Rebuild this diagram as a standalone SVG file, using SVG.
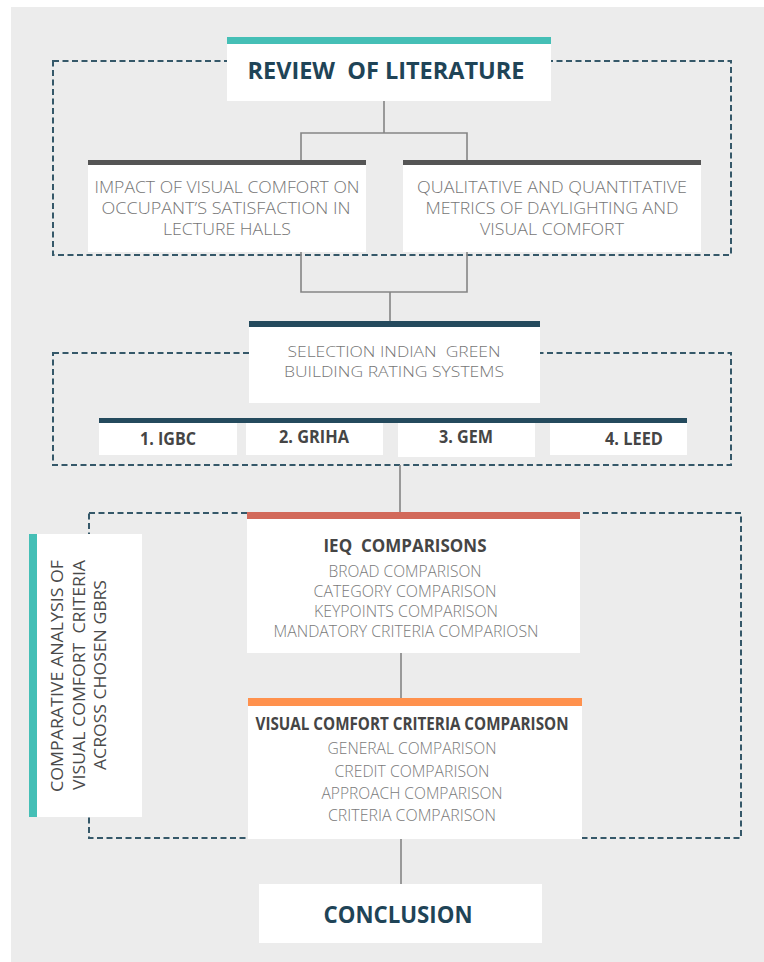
<svg xmlns="http://www.w3.org/2000/svg" width="764" height="962" viewBox="0 0 764 962">
<defs>
<style>
.bg{fill:#ececec}
.box{fill:#ffffff}
.dash{fill:none;stroke:#355869;stroke-width:2;stroke-dasharray:6 3.5}
.conn{fill:none;stroke:#858585;stroke-width:1.6}
.t{font-family:"Open Sans","Liberation Sans",sans-serif;text-anchor:middle;white-space:pre}
.title{font-weight:700;font-size:23px;fill:#1f4457}
.lbl{font-weight:300;font-size:17px;fill:#767676}
.sel{font-weight:300;font-size:15px;fill:#767676}
.sub{font-weight:300;font-size:16px;fill:#7a7a7a}
.bold{font-weight:700;font-size:17px;fill:#454545}
.side{font-weight:400;font-size:16px;fill:#4a4a4a}
</style>
</defs>
<rect class="bg" x="11" y="7" width="753" height="955"/>

<g id="groups">
<rect class="dash" x="53" y="61" width="678" height="194"/>
<rect class="dash" x="53" y="353" width="678" height="112"/>
<rect class="dash" x="89" y="513" width="652" height="325"/>
</g>

<g id="connectors">
<polyline class="conn" points="384,100 384,133"/>
<polyline class="conn" points="301,160 301,133 467,133 467,160"/>
<polyline class="conn" points="301,252 301,292 467,292 467,252"/>
<polyline class="conn" points="390,292 390,321"/>
<polyline class="conn" points="400,465 400,512"/>
<polyline class="conn" points="401,653 401,698"/>
<polyline class="conn" points="401,839 401,884"/>
</g>

<g id="review">
<rect class="box" x="227" y="44" width="324" height="57"/>
<rect x="227" y="37" width="324" height="7" fill="#45bfb6"/>
<text class="t title" x="386" y="79" textLength="277" lengthAdjust="spacingAndGlyphs">REVIEW  OF LITERATURE</text>
</g>

<g id="impact">
<rect class="box" x="88" y="165" width="278" height="87"/>
<rect x="88" y="160" width="278" height="5" fill="#555555"/>
<text class="t lbl" x="227" y="193" textLength="265" lengthAdjust="spacingAndGlyphs">IMPACT OF VISUAL COMFORT ON</text>
<text class="t lbl" x="226" y="214" textLength="249" lengthAdjust="spacingAndGlyphs">OCCUPANT’S SATISFACTION IN</text>
<text class="t lbl" x="227" y="235" textLength="128" lengthAdjust="spacingAndGlyphs">LECTURE HALLS</text>
</g>

<g id="metrics">
<rect class="box" x="403" y="165" width="298" height="87"/>
<rect x="403" y="160" width="298" height="5" fill="#555555"/>
<text class="t lbl" x="552" y="193" textLength="270" lengthAdjust="spacingAndGlyphs">QUALITATIVE AND QUANTITATIVE</text>
<text class="t lbl" x="552" y="214" textLength="253" lengthAdjust="spacingAndGlyphs">METRICS OF DAYLIGHTING AND</text>
<text class="t lbl" x="552" y="235" textLength="144" lengthAdjust="spacingAndGlyphs">VISUAL COMFORT</text>
</g>

<g id="selection">
<rect class="box" x="249" y="327" width="291" height="76"/>
<rect x="249" y="321" width="291" height="6" fill="#244a5d"/>
<text class="t sel" x="394" y="357" textLength="213" lengthAdjust="spacingAndGlyphs">SELECTION INDIAN  GREEN</text>
<text class="t sel" x="394" y="377" textLength="220" lengthAdjust="spacingAndGlyphs">BUILDING RATING SYSTEMS</text>
</g>

<g id="systems">
<rect x="99" y="418" width="588" height="5" fill="#244a5d"/>
</g>
<g id="igbc">
<rect class="box" x="99" y="423" width="138" height="32"/>
<text class="t bold" x="168" y="445" textLength="56" lengthAdjust="spacingAndGlyphs">1. IGBC</text>
</g>
<g id="griha">
<rect class="box" x="246" y="423" width="137" height="32"/>
<text class="t bold" x="314" y="443" textLength="70" lengthAdjust="spacingAndGlyphs">2. GRIHA</text>
</g>
<g id="gem">
<rect class="box" x="398" y="423" width="137" height="34"/>
<text class="t bold" x="466" y="443" textLength="54" lengthAdjust="spacingAndGlyphs">3. GEM</text>
</g>
<g id="leed">
<rect class="box" x="550" y="423" width="137" height="32"/>
<text class="t bold" x="634" y="445" textLength="58" lengthAdjust="spacingAndGlyphs">4. LEED</text>
</g>

<g id="ieq">
<rect class="box" x="247" y="519" width="333" height="134"/>
<rect x="247" y="512" width="333" height="7" fill="#d2695a"/>
<text class="t bold" x="405" y="552" textLength="163" lengthAdjust="spacingAndGlyphs">IEQ  COMPARISONS</text>
<text class="t sub" x="405" y="577" textLength="153" lengthAdjust="spacingAndGlyphs">BROAD COMPARISON</text>
<text class="t sub" x="405" y="597" textLength="183" lengthAdjust="spacingAndGlyphs">CATEGORY COMPARISON</text>
<text class="t sub" x="406" y="617" textLength="184" lengthAdjust="spacingAndGlyphs">KEYPOINTS COMPARISON</text>
<text class="t sub" x="406" y="637" textLength="265" lengthAdjust="spacingAndGlyphs">MANDATORY CRITERIA COMPARIOSN</text>
</g>

<g id="visual">
<rect class="box" x="248" y="706" width="334" height="133"/>
<rect x="248" y="698" width="334" height="8" fill="#ff914d"/>
<text class="t bold" x="412" y="730" textLength="313" lengthAdjust="spacingAndGlyphs">VISUAL COMFORT CRITERIA COMPARISON</text>
<text class="t sub" x="412" y="754" textLength="169" lengthAdjust="spacingAndGlyphs">GENERAL COMPARISON</text>
<text class="t sub" x="412" y="777" textLength="155" lengthAdjust="spacingAndGlyphs">CREDIT COMPARISON</text>
<text class="t sub" x="412" y="799" textLength="181" lengthAdjust="spacingAndGlyphs">APPROACH COMPARISON</text>
<text class="t sub" x="412" y="821" textLength="168" lengthAdjust="spacingAndGlyphs">CRITERIA COMPARISON</text>
</g>

<g id="comparative">
<rect class="box" x="29" y="534" width="113" height="283"/>
<rect x="29" y="534" width="8" height="283" fill="#45bfb6"/>
<g transform="translate(63,676) rotate(-90)"><text class="t side" x="0" y="0" textLength="232" lengthAdjust="spacingAndGlyphs">COMPARATIVE ANALYSIS OF</text></g>
<g transform="translate(85,675) rotate(-90)"><text class="t side" x="0" y="0" textLength="230" lengthAdjust="spacingAndGlyphs">VISUAL COMFORT  CRITERIA</text></g>
<g transform="translate(106,675) rotate(-90)"><text class="t side" x="0" y="0" textLength="190" lengthAdjust="spacingAndGlyphs">ACROSS CHOSEN GBRS</text></g>
</g>

<g id="conclusion">
<rect class="box" x="259" y="884" width="283" height="59"/>
<text class="t title" x="398" y="923" textLength="149" lengthAdjust="spacingAndGlyphs">CONCLUSION</text>
</g>
</svg>
